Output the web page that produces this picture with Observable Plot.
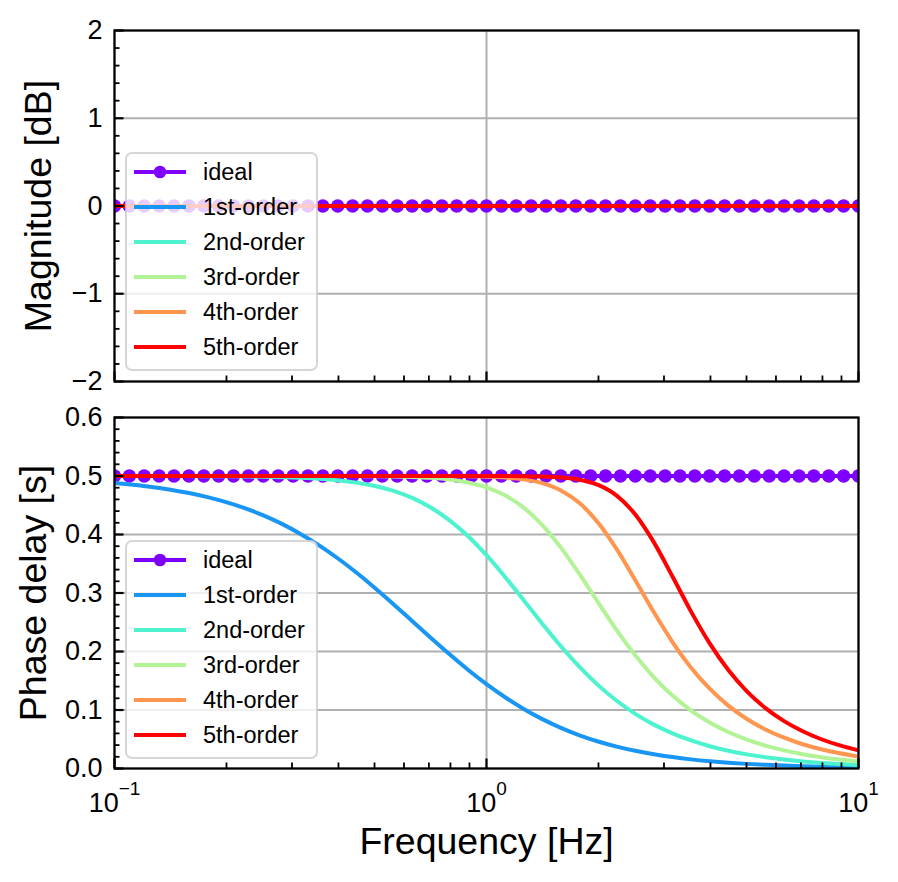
<!DOCTYPE html>
<html>
<head>
<meta charset="utf-8">
<script src="https://cdn.jsdelivr.net/npm/d3@7"></script>
<script src="https://cdn.jsdelivr.net/npm/@observablehq/plot@0.6"></script>
<style>
html, body { margin: 0; padding: 0; background: #ffffff; }
#chart { width: 898px; }
#chart svg { display: block; }
</style>
</head>
<body>
<div id="chart"></div>
<script>
// ---------- data ----------
const seriesNames = ["ideal", "1st-order", "2nd-order", "3rd-order", "4th-order", "5th-order"];
const seriesColors = ["#8000ff", "#1996f3", "#4df3ce", "#b2f396", "#ff964f", "#ff0000"];

// frequencies of the ideal-response markers [Hz]
const idealFreq = [0.1, 0.1096, 0.1202, 0.1318, 0.1445, 0.1585, 0.1738, 0.1905, 0.2089, 0.2291,
  0.2512, 0.2754, 0.302, 0.3311, 0.3631, 0.3981, 0.4365, 0.4786, 0.5248, 0.5754,
  0.631, 0.6918, 0.7586, 0.8318, 0.912, 1.0, 1.0965, 1.2023, 1.3183, 1.4454,
  1.5849, 1.7378, 1.9055, 2.0893, 2.2909, 2.5119, 2.7542, 3.02, 3.3113, 3.6308,
  3.9811, 4.3652, 4.7863, 5.2481, 5.7544, 6.3096, 6.9183, 7.5858, 8.3176, 9.1201, 10.0];
const idealMagnitude = 0;   // dB
const idealDelay = 0.5;     // s

// magnitude of every approximation [dB] over the whole band
const magBand = [0.1, 10];
const orderMagnitude = [0, 0, 0, 0, 0];

// phase delay [s] of the approximations, sampled at these frequencies [Hz]
const delayFreq = [0.1, 0.1122, 0.1259, 0.1413, 0.1585, 0.1778, 0.1995, 0.2239, 0.2512, 0.2818,
  0.3162, 0.3548, 0.3981, 0.4467, 0.5012, 0.5623, 0.631, 0.7079, 0.7943, 0.8913,
  1.0, 1.122, 1.2589, 1.4125, 1.5849, 1.7783, 1.9953, 2.2387, 2.5119, 2.8184,
  3.1623, 3.5481, 3.9811, 4.4668, 5.0119, 5.6234, 6.3096, 7.0795, 7.9433, 8.9125, 10];
const order1Delay = [0.4880, 0.4849, 0.4812, 0.4765, 0.4708, 0.4638, 0.4553, 0.4450, 0.4326, 0.4181,
  0.4010, 0.3815, 0.3594, 0.3350, 0.3087, 0.2809, 0.2522, 0.2235, 0.1956, 0.1689,
  0.1442, 0.1218, 0.1018, 0.0844, 0.0695, 0.0568, 0.0462, 0.0374, 0.0302, 0.0243,
  0.0195, 0.0156, 0.0125, 0.0100, 0.0079, 0.0063, 0.0050, 0.0040, 0.0032, 0.0025, 0.0020];
const order2Delay = [0.5000, 0.5000, 0.4999, 0.4999, 0.4998, 0.4997, 0.4995, 0.4992, 0.4987, 0.4980,
  0.4969, 0.4952, 0.4926, 0.4887, 0.4829, 0.4745, 0.4626, 0.4463, 0.4247, 0.3974,
  0.3646, 0.3275, 0.2877, 0.2476, 0.2090, 0.1737, 0.1425, 0.1158, 0.0934, 0.0750,
  0.0600, 0.0479, 0.0381, 0.0304, 0.0241, 0.0192, 0.0153, 0.0121, 0.0096, 0.0077, 0.0061];
const order3Delay = [0.5000, 0.5000, 0.5000, 0.5000, 0.5000, 0.5000, 0.5000, 0.5000, 0.5000, 0.5000,
  0.5000, 0.4999, 0.4999, 0.4998, 0.4995, 0.4991, 0.4983, 0.4968, 0.4940, 0.4890,
  0.4806, 0.4669, 0.4459, 0.4161, 0.3776, 0.3323, 0.2840, 0.2366, 0.1934, 0.1559,
  0.1246, 0.0991, 0.0786, 0.0623, 0.0493, 0.0391, 0.0309, 0.0245, 0.0194, 0.0154, 0.0122];
const order4Delay = [0.5000, 0.5000, 0.5000, 0.5000, 0.5000, 0.5000, 0.5000, 0.5000, 0.5000, 0.5000,
  0.5000, 0.5000, 0.5000, 0.5000, 0.5000, 0.5000, 0.5000, 0.4999, 0.4998, 0.4995,
  0.4988, 0.4974, 0.4942, 0.4877, 0.4753, 0.4537, 0.4202, 0.3749, 0.3217, 0.2670,
  0.2162, 0.1724, 0.1364, 0.1075, 0.0847, 0.0667, 0.0526, 0.0415, 0.0328, 0.0260, 0.0205];
const order5Delay = [0.5000, 0.5000, 0.5000, 0.5000, 0.5000, 0.5000, 0.5000, 0.5000, 0.5000, 0.5000,
  0.5000, 0.5000, 0.5000, 0.5000, 0.5000, 0.5000, 0.5000, 0.5000, 0.5000, 0.5000,
  0.5000, 0.4999, 0.4997, 0.4991, 0.4975, 0.4937, 0.4848, 0.4665, 0.4342, 0.3865,
  0.3282, 0.2682, 0.2138, 0.1683, 0.1319, 0.1032, 0.0809, 0.0636, 0.0500, 0.0394, 0.0311];

// tick values
const xMajor = [0.1, 1, 10];
const xMinor = [0.2, 0.3, 0.4, 0.5, 0.6, 0.7, 0.8, 0.9, 2, 3, 4, 5, 6, 7, 8, 9];
const xExponent = ["−1", "0", "1"];
const magMajor = [-2, -1, 0, 1, 2];
const magMinor = [-1.8, -1.6, -1.4, -1.2, -0.8, -0.6, -0.4, -0.2, 0.2, 0.4, 0.6, 0.8, 1.2, 1.4, 1.6, 1.8];
const delayMajor = [0, 0.1, 0.2, 0.3, 0.4, 0.5, 0.6];
const delayMinor = [0.02, 0.04, 0.06, 0.08, 0.12, 0.14, 0.16, 0.18, 0.22, 0.24, 0.26, 0.28,
  0.32, 0.34, 0.36, 0.38, 0.42, 0.44, 0.46, 0.48, 0.52, 0.54, 0.56, 0.58];

// ---------- tables ----------
const idealRows = idealFreq.map(f => ({f, mag: idealMagnitude, delay: idealDelay}));
const orderDelaySets = [order1Delay, order2Delay, order3Delay, order4Delay, order5Delay]
  .map(vs => delayFreq.map((f, j) => ({f, v: vs[j]})));
const orderMagSets = orderMagnitude.map(m => magBand.map(f => ({f, v: m})));

// ---------- layout ----------
const W = 898, ML = 114, MR = 40;
const PW = W - ML - MR;           // 744
const FONT = '"Liberation Sans", Arial, Helvetica, sans-serif';
const GRID = "#b0b0b0";
const LW = 4;

function tickMarks(plotH, yMaj, yMin) {
  return [
    Plot.tickY(yMaj, {y: d => d, stroke: "black", strokeWidth: 2.2, insetRight: PW - 9.5}),
    Plot.tickY(yMin, {y: d => d, stroke: "black", strokeWidth: 1.8, insetRight: PW - 5.5}),
    Plot.tickX(xMajor, {x: d => d, stroke: "black", strokeWidth: 2.2, insetTop: plotH - 9.5}),
    Plot.tickX(xMinor, {x: d => d, stroke: "black", strokeWidth: 1.8, insetTop: plotH - 5.5})
  ];
}

function addLegend(svg, x0, y0) {
  const g = d3.select(svg).append("g").attr("font-family", FONT).attr("font-size", "23.5px");
  g.append("rect").attr("x", x0).attr("y", y0).attr("width", 191).attr("height", 217).attr("rx", 6)
    .attr("fill", "white").attr("fill-opacity", 0.8)
    .attr("stroke", "#cccccc").attr("stroke-opacity", 0.8).attr("stroke-width", 2);
  seriesNames.forEach((name, i) => {
    const cy = y0 + 19 + i * 35;
    g.append("line").attr("x1", x0 + 8).attr("x2", x0 + 60).attr("y1", cy).attr("y2", cy)
      .attr("stroke", seriesColors[i]).attr("stroke-width", LW);
    if (i === 0) g.append("circle").attr("cx", x0 + 34).attr("cy", cy).attr("r", 6.3).attr("fill", seriesColors[0]);
    g.append("text").attr("x", x0 + 77).attr("y", cy).attr("dy", "0.35em")
      .attr("text-anchor", "start").attr("fill", "black").text(name);
  });
}

const styleObj = {fontFamily: FONT, fontSize: "27px", color: "black", background: "white", overflow: "visible"};

// ---------- top panel: magnitude ----------
const H1 = 399, MT1 = 30, MB1 = 18;
const magPlot = Plot.plot({
  width: W, height: H1, marginLeft: ML, marginRight: MR, marginTop: MT1, marginBottom: MB1,
  style: styleObj,
  x: {type: "log", domain: [0.1, 10], axis: null},
  y: {domain: [-2, 2], ticks: magMajor, tickSize: 0, tickPadding: 12, label: null,
      tickFormat: d => d < 0 ? "−" + (-d) : String(d)},
  marks: [
    Plot.ruleY(magMajor, {y: d => d, stroke: GRID, strokeWidth: 2}),
    Plot.ruleX(xMajor, {x: d => d, stroke: GRID, strokeWidth: 2}),
    Plot.line(idealRows, {x: "f", y: "mag", stroke: seriesColors[0], strokeWidth: LW, clip: true}),
    Plot.dot(idealRows, {x: "f", y: "mag", r: 6.7, fill: seriesColors[0], stroke: null, clip: true}),
    ...orderMagSets.map((rows, i) => Plot.line(rows, {x: "f", y: "v", stroke: seriesColors[i + 1], strokeWidth: LW, clip: true})),
    Plot.frame({stroke: "black", strokeWidth: 2.2}),
    ...tickMarks(H1 - MT1 - MB1, magMajor, magMinor),
    Plot.text(["Magnitude [dB]"], {frameAnchor: "left", textAnchor: "middle", rotate: -90, dx: -76, fontSize: 37.5, fill: "black", text: d => d})
  ]
});
addLegend(magPlot, 126, 153);

// ---------- bottom panel: phase delay ----------
const H2 = 483, MT2 = 18, MB2 = 114;
const delayPlot = Plot.plot({
  width: W, height: H2, marginLeft: ML, marginRight: MR, marginTop: MT2, marginBottom: MB2,
  style: styleObj,
  x: {type: "log", domain: [0.1, 10], ticks: xMajor, tickSize: 0, tickPadding: 24.5, label: null,
      tickFormat: d => xExponent[xMajor.indexOf(d)]},
  y: {domain: [0, 0.6], ticks: delayMajor, tickSize: 0, tickPadding: 12, label: null,
      tickFormat: d3.format(".1f")},
  marks: [
    Plot.ruleY(delayMajor, {y: d => d, stroke: GRID, strokeWidth: 2}),
    Plot.ruleX(xMajor, {x: d => d, stroke: GRID, strokeWidth: 2}),
    Plot.line(idealRows, {x: "f", y: "delay", stroke: seriesColors[0], strokeWidth: LW, clip: true}),
    Plot.dot(idealRows, {x: "f", y: "delay", r: 6.7, fill: seriesColors[0], stroke: null, clip: true}),
    ...orderDelaySets.map((rows, i) => Plot.line(rows, {x: "f", y: "v", stroke: seriesColors[i + 1], strokeWidth: LW, curve: "monotone-x", clip: true})),
    Plot.frame({stroke: "black", strokeWidth: 2.2}),
    ...tickMarks(H2 - MT2 - MB2, delayMajor, delayMinor),
    Plot.text(["Phase delay [s]"], {frameAnchor: "left", textAnchor: "middle", rotate: -90, dx: -81, fontSize: 37.5, fill: "black", text: d => d}),
    Plot.text(["Frequency [Hz]"], {frameAnchor: "bottom", lineAnchor: "bottom", dy: 85, fontSize: 37.5, fill: "black", text: d => d})
  ]
});
addLegend(delayPlot, 126, 142);

// superscript exponents on the x tick labels: 10^e
d3.select(delayPlot).selectAll('[aria-label^="x-axis"] text').each(function () {
  const e = this.textContent;
  if (!xExponent.includes(e)) return;
  const t = d3.select(this);
  t.text("");
  t.append("tspan").text("10");
  t.append("tspan").attr("dy", -17).attr("font-size", "19px").text(e);
});

const chart = document.getElementById("chart");
chart.appendChild(magPlot);
chart.appendChild(delayPlot);
</script>
</body>
</html>
